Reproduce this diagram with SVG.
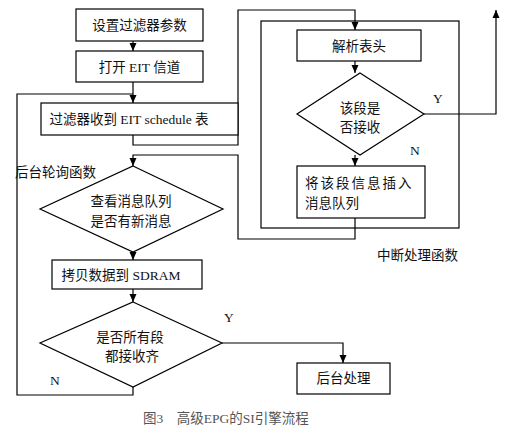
<svg xmlns="http://www.w3.org/2000/svg" width="513" height="433" viewBox="0 0 513 433">
<defs>
<marker id="arr" viewBox="0 0 8 8" refX="8" refY="4" markerWidth="8" markerHeight="8" markerUnits="userSpaceOnUse" orient="auto">
<path d="M0,0.5 L8,4 L0,7.5 Z" fill="#000"/>
</marker>
<style>
.box{fill:#fff;stroke:#000;stroke-width:1.2}
.ln{fill:none;stroke:#000;stroke-width:1.2}
.t{font-family:"Liberation Serif","Noto Sans CJK SC",serif;font-size:13.5px;fill:#111;text-anchor:middle;dominant-baseline:central}
.l{font-family:"Liberation Serif","Noto Sans CJK SC",serif;font-size:13.5px;fill:#111;dominant-baseline:central}
</style>
</defs>
<rect width="513" height="433" fill="#fff"/>
<g id="interrupt-frame">
<rect x="261" y="21" width="198" height="207" class="ln"/>
<text class="l" x="377" y="255">中断处理函数</text>
</g>
<g id="connectors">
<line class="ln" x1="133" y1="41" x2="133" y2="51" marker-end="url(#arr)"/>
<line class="ln" x1="133" y1="82" x2="133" y2="103" marker-end="url(#arr)"/>
<polyline class="ln" points="133,135 133,145 238,145 238,10 355,10 355,30" marker-end="url(#arr)"/>
<line class="ln" x1="355" y1="61" x2="355" y2="73" marker-end="url(#arr)"/>
<polyline class="ln" points="424,114 496,114 496,10" marker-end="url(#arr)"/>
<line class="ln" x1="355" y1="155" x2="355" y2="166" marker-end="url(#arr)"/>
<polyline class="ln" points="355,218 355,239 238,239 238,155 133,155 133,166" marker-end="url(#arr)"/>
<line class="ln" x1="133" y1="252" x2="133" y2="260" marker-end="url(#arr)"/>
<line class="ln" x1="133" y1="289" x2="133" y2="302" marker-end="url(#arr)"/>
<polyline class="ln" points="222,343 343,343 343,363" marker-end="url(#arr)"/>
<polyline class="ln" points="133,387 133,395 17,395 17,94 133,94"/>
</g>
<g id="labels">
<text class="l" x="433" y="98">Y</text>
<text class="l" x="410" y="150">N</text>
<text class="l" x="224" y="317">Y</text>
<text class="l" x="50" y="380">N</text>
<text class="l" x="15" y="172">后台轮询函数</text>
</g>
<g id="n1"><rect class="box" x="76" y="9" width="127" height="32"/><text class="t" x="139.5" y="25">设置过滤器参数</text></g>
<g id="n2"><rect class="box" x="76" y="51" width="127" height="31"/><text class="t" x="139.5" y="67">打开 EIT 信道</text></g>
<g id="n3"><rect class="box" x="41" y="103" width="197" height="32"/><text class="t" x="129" y="119">过滤器收到 EIT schedule 表</text></g>
<g id="n4"><rect class="box" x="297" y="30" width="124" height="31"/><text class="t" x="359" y="46">解析表头</text></g>
<g id="n5"><polygon class="box" points="360,73 424,114 360,155 297,114"/><text class="t" x="360" y="108">该段是</text><text class="t" x="360" y="127">否接收</text></g>
<g id="n6"><rect class="box" x="297" y="166" width="128" height="52"/><text class="l" x="305" y="183" letter-spacing="2">将该段信息插入</text><text class="l" x="305" y="203">消息队列</text></g>
<g id="n7"><polygon class="box" points="133,166 223,209 133,252 40,209"/><text class="t" x="131" y="201">查看消息队列</text><text class="t" x="131" y="221">是否有新消息</text></g>
<g id="n8"><rect class="box" x="52" y="260" width="150" height="29"/><text class="t" x="121" y="275">拷贝数据到 SDRAM</text></g>
<g id="n9"><polygon class="box" points="133,302 222,343 133,387 40,343"/><text class="t" x="130" y="337">是否所有段</text><text class="t" x="132" y="356">都接收齐</text></g>
<g id="n10"><rect class="box" x="297" y="363" width="93" height="31"/><text class="t" x="343.5" y="378">后台处理</text></g>
<g id="caption"><text class="t" x="226" y="418" style="fill:#555">图3　高级EPG的SI引擎流程</text></g>
</svg>
